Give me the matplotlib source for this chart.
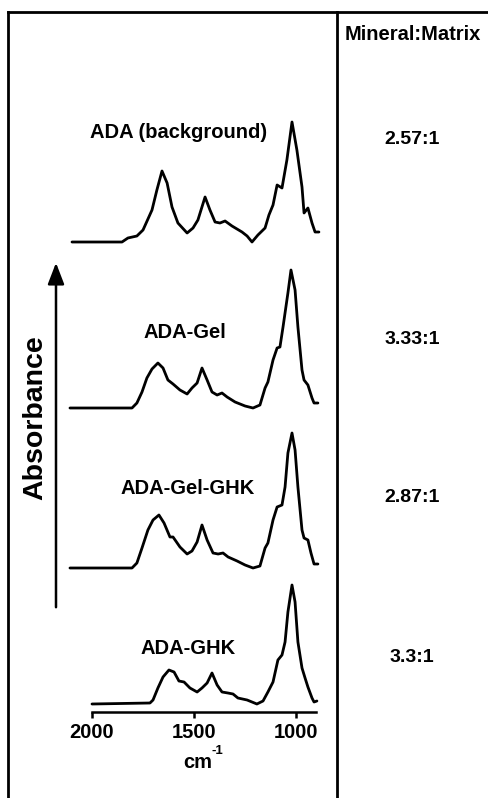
import numpy as np
import matplotlib
matplotlib.use('Agg')
import matplotlib.pyplot as plt
from matplotlib.lines import Line2D

plt.rcParams['font.family'] = ['Liberation Sans', 'DejaVu Sans']
plt.rcParams['font.weight'] = 'bold'

# FTIR spectra, wavenumber (cm-1) vs absorbance (arbitrary units)
ada_wn = [2098, 1853, 1824, 1780, 1750, 1706, 1682, 1657, 1632, 1608, 1579, 1534, 1505,
          1481, 1446, 1422, 1397, 1373, 1348, 1314, 1265, 1240, 1216, 1187, 1152, 1133,
          1113, 1093, 1069, 1045, 1020, 996, 971, 961, 942, 922, 907, 888]
ada_abs = [0, 0, 0.04, 0.06, 0.12, 0.32, 0.52, 0.71, 0.59, 0.35, 0.19, 0.09, 0.14,
           0.22, 0.45, 0.32, 0.20, 0.19, 0.21, 0.16, 0.10, 0.06, 0.0, 0.07, 0.14, 0.27,
           0.37, 0.57, 0.54, 0.82, 1.20, 0.92, 0.55, 0.29, 0.34, 0.19, 0.10, 0.10]

gel_wn = [2108, 1804, 1780, 1755, 1731, 1706, 1677, 1652, 1628, 1603, 1569, 1534, 1510,
          1485, 1461, 1436, 1412, 1387, 1363, 1338, 1299, 1250, 1211, 1177, 1152, 1138,
          1113, 1093, 1079, 1064, 1040, 1025, 1005, 991, 971, 961, 942, 922, 912, 893]
gel_abs = [0, 0, 0.05, 0.16, 0.30, 0.39, 0.45, 0.40, 0.28, 0.24, 0.18, 0.14, 0.20,
           0.25, 0.40, 0.28, 0.16, 0.13, 0.15, 0.11, 0.06, 0.02, 0.0, 0.03, 0.20, 0.26,
           0.48, 0.60, 0.61, 0.81, 1.15, 1.38, 1.18, 0.81, 0.38, 0.28, 0.23, 0.10, 0.05, 0.05]

gelghk_wn = [2108, 1804, 1780, 1755, 1726, 1701, 1672, 1647, 1618, 1603, 1569, 1534, 1510,
             1485, 1461, 1436, 1407, 1382, 1358, 1333, 1289, 1250, 1211, 1177, 1152, 1138,
             1113, 1093, 1069, 1054, 1040, 1020, 1005, 991, 971, 961, 942, 927, 912, 893]
gelghk_abs = [0, 0, 0.05, 0.20, 0.38, 0.48, 0.53, 0.45, 0.31, 0.31, 0.21, 0.14, 0.17,
              0.26, 0.43, 0.28, 0.15, 0.14, 0.15, 0.11, 0.07, 0.03, 0.0, 0.02, 0.20, 0.25,
              0.48, 0.61, 0.63, 0.81, 1.15, 1.35, 1.18, 0.81, 0.38, 0.30, 0.28, 0.15, 0.04, 0.04]

ghk_wn = [2000, 1716, 1701, 1677, 1652, 1623, 1598, 1574, 1549, 1520, 1485, 1461, 1436,
          1412, 1387, 1363, 1334, 1309, 1285, 1240, 1192, 1162, 1138, 1113, 1089, 1069,
          1054, 1040, 1020, 1005, 991, 971, 956, 942, 922, 912, 898]
ghk_abs = [0, 0.01, 0.04, 0.16, 0.27, 0.34, 0.32, 0.23, 0.22, 0.16, 0.12, 0.16, 0.21,
           0.31, 0.19, 0.12, 0.11, 0.10, 0.06, 0.04, 0.0, 0.03, 0.12, 0.22, 0.44, 0.49,
           0.62, 0.92, 1.19, 1.02, 0.62, 0.36, 0.26, 0.17, 0.06, 0.02, 0.03]

names = ['ADA (background)', 'ADA-Gel', 'ADA-Gel-GHK', 'ADA-GHK']
ratios = ['2.57:1', '3.33:1', '2.87:1', '3.3:1']
offsets = [4.70, 3.04, 1.44, 0.08]
spectra = [(ada_wn, ada_abs), (gel_wn, gel_abs), (gelghk_wn, gelghk_abs), (ghk_wn, ghk_abs)]

W, H = 488, 798
fig = plt.figure(figsize=(W / 100, H / 100), dpi=100)

def fx(px):
  return px / W

def fy(py):
  return 1 - py / H

# axes placed in pixel terms: left 60, right 330, bottom 712, top 100
ax = fig.add_axes([fx(60), fy(712), (330 - 60) / W, (712 - 100) / H])
for (wn, ab), off in zip(spectra, offsets):
  ax.plot(wn, np.array(ab) + off, color='black', lw=2.0,
          solid_joinstyle='round', solid_capstyle='round')

ax.set_xlim(2000 + 4.9 * 32, 2000 - 4.9 * 238)
ax.set_ylim(0, 6.12)
for s in ['top', 'left', 'right']:
  ax.spines[s].set_visible(False)
ax.spines['bottom'].set_bounds(2000, 902)
ax.spines['bottom'].set_linewidth(1.8)
ax.set_yticks([])
ax.set_xticks([2000, 1500, 1000])
ax.set_xticklabels(['2000', '1500', '1000'], fontsize=14.5, fontweight='bold')
ax.tick_params(axis='x', direction='out', length=4, width=1.8, pad=4)
ax.patch.set_visible(False)

# labels for each spectrum and mineral:matrix ratios
label_pos = [(179, 132), (185, 332), (188, 488), (188, 648)]
ratio_y = [140, 340, 498, 658]
for name, (lx, ly), r, ry in zip(names, label_pos, ratios, ratio_y):
  fig.text(fx(lx), fy(ly), name, ha='center', va='center', fontsize=14.5, fontweight='bold')
  fig.text(fx(412), fy(ry), r, ha='center', va='center', fontsize=14, fontweight='bold')

fig.text(fx(413), fy(35), 'Mineral:Matrix', ha='center', va='center', fontsize=14.5, fontweight='bold')
fig.text(fx(198), fy(762), 'cm', ha='center', va='center', fontsize=14.5, fontweight='bold')
fig.text(fx(212), fy(751), '-1', ha='left', va='center', fontsize=9.5, fontweight='bold')
fig.text(fx(35), fy(418), 'Absorbance', ha='center', va='center', rotation=90,
         fontsize=20.5, fontweight='bold')

# absorbance arrow
fig.add_artist(matplotlib.patches.FancyArrowPatch(
  (fx(56), fy(610)), (fx(56), fy(260)), transform=fig.transFigure,
  arrowstyle='-|>,head_length=1.3,head_width=0.5', mutation_scale=10,
  color='black', lw=1.8))

# frame lines
for xs, ys in [((8, 488), (12, 12)), ((8, 8), (12, 798)), ((337, 337), (12, 798))]:
  fig.add_artist(Line2D([fx(xs[0]), fx(xs[1])], [fy(ys[0]), fy(ys[1])],
                        transform=fig.transFigure, color='black', lw=2.0))

fig.savefig('out.png', dpi=100)
